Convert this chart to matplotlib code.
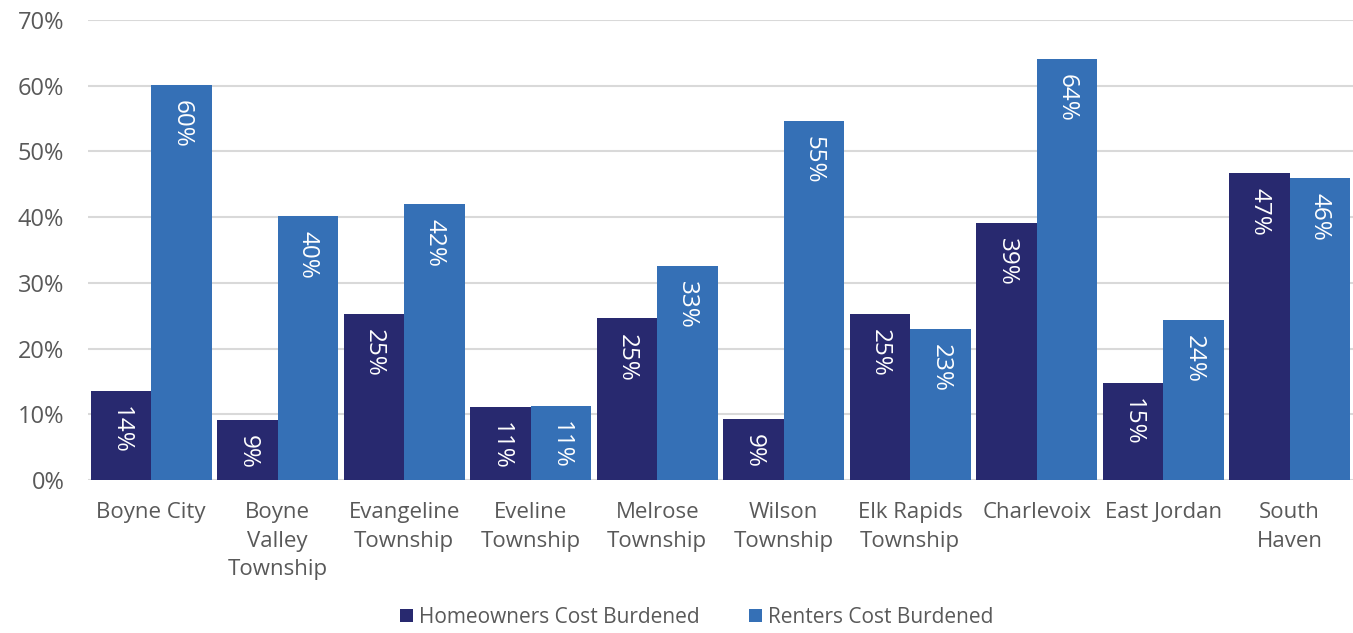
import matplotlib
matplotlib.use("Agg")
import matplotlib.pyplot as plt
import numpy as np

categories = ["Boyne City", "Boyne\nValley\nTownship", "Evangeline\nTownship", "Eveline\nTownship",
              "Melrose\nTownship", "Wilson\nTownship", "Elk Rapids\nTownship", "Charlevoix",
              "East Jordan", "South\nHaven"]
homeowners = [13.6, 9.2, 25.3, 11.1, 24.6, 9.3, 25.3, 39.1, 14.8, 46.7]
renters = [60.1, 40.2, 42.0, 11.3, 32.6, 54.6, 23.0, 64.1, 24.4, 46.0]
series_names = ["Homeowners Cost Burdened", "Renters Cost Burdened"]
y_ticks = [0, 10, 20, 30, 40, 50, 60, 70]

plt.rcParams['font.family'] = ['Open Sans', 'DejaVu Sans']

fig = plt.figure(figsize=(13.53, 6.33), dpi=100)
ax = fig.add_axes([0.065, 0.2417, 0.935, 0.7267])

x = np.arange(len(categories))
w = 0.477
c_home = "#28296F"
c_rent = "#3570B6"

b1 = ax.bar(x - w / 2, homeowners, w, color=c_home, label=series_names[0], zorder=3)
b2 = ax.bar(x + w / 2, renters, w, color=c_rent, label=series_names[1], zorder=3)

for bars, vals in ((b1, homeowners), (b2, renters)):
    for rect, v in zip(bars, vals):
        cx = rect.get_x() + rect.get_width() / 2
        ax.annotate(f"{v:.0f}%", (cx, v), xytext=(0, -11), textcoords="offset points",
                    rotation=270, ha="center", va="top", color="white", fontsize=17.5,
                    zorder=4)

ax.set_xlim(-0.5, len(categories) - 0.5)
ax.set_ylim(0, 70)
ax.set_yticks(y_ticks)
ax.set_yticklabels([f"{t}%" for t in y_ticks])
ax.set_xticks(x)
ax.set_xticklabels(categories, linespacing=1.47)
ax.tick_params(axis="both", length=0, labelcolor="#595959")
ax.tick_params(axis="x", labelsize=16, pad=16)
ax.tick_params(axis="y", labelsize=17, pad=17)
ax.yaxis.grid(True, color="#D9D9D9", linewidth=1.5, zorder=0)
for s in ax.spines.values():
    s.set_visible(False)

leg = fig.legend(handles=[b1, b2], labels=series_names, loc="lower center",
                 bbox_to_anchor=(0.515, -0.022), ncol=2, frameon=False, fontsize=15,
                 handlelength=0.6, handleheight=0.6, handletextpad=0.3, columnspacing=2.4)
for t in leg.get_texts():
    t.set_color("#595959")

fig.savefig("out.png", dpi=100)
